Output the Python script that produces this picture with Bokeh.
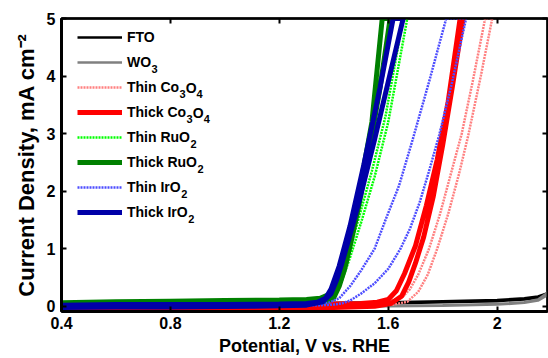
from bokeh.plotting import figure
from bokeh.models import Range1d, FixedTicker, LinearAxis, Legend, LegendItem, Label, CustomJSTickFormatter
from bokeh.embed import file_html
from bokeh.resources import INLINE

# ---- data (potential V vs RHE, current density mA/cm^2) ----
fto_v_fwd = [0.40, 0.80, 1.20, 1.60, 1.80, 2.00, 2.10, 2.15, 2.18, 2.20]
fto_j_fwd = [0.04, 0.05, 0.05, 0.07, 0.09, 0.11, 0.14, 0.17, 0.22, 0.30]
fto_v_rev = [2.20, 2.18, 2.15, 2.10, 2.00, 1.80, 1.60, 1.20, 0.80, 0.40]
fto_j_rev = [0.30, 0.20, 0.15, 0.12, 0.09, 0.07, 0.05, 0.04, 0.03, 0.02]

wo3_v_fwd = [0.40, 0.80, 1.20, 1.60, 1.80, 2.00, 2.10, 2.15, 2.18, 2.20]
wo3_j_fwd = [-0.02, -0.01, 0.00, 0.01, 0.02, 0.04, 0.07, 0.12, 0.22, 0.34]
wo3_v_rev = [2.20, 2.18, 2.15, 2.10, 2.00, 1.80, 1.60, 1.20, 0.80, 0.40]
wo3_j_rev = [0.34, 0.18, 0.10, 0.06, 0.03, 0.01, 0.00, -0.01, -0.02, -0.03]

thin_co_v_fwd = [0.40, 0.80, 1.20, 1.50, 1.60, 1.65, 1.68, 1.71, 1.75, 1.79, 1.83, 1.87, 1.91, 1.956]
thin_co_j_fwd = [0.01, 0.02, 0.03, 0.05, 0.08, 0.15, 0.30, 0.55, 1.00, 1.60, 2.30, 3.00, 3.90, 5.00]
thin_co_v_rev = [1.982, 1.94, 1.894, 1.86, 1.82, 1.78, 1.745, 1.71, 1.67, 1.62, 1.50, 1.20, 0.80, 0.40]
thin_co_j_rev = [5.00, 4.00, 2.97, 2.30, 1.60, 1.00, 0.55, 0.25, 0.08, 0.03, 0.02, 0.01, 0.00, 0.00]

thick_co_v_fwd = [0.40, 0.80, 1.20, 1.40, 1.50, 1.56, 1.60, 1.63, 1.66, 1.70, 1.74, 1.78, 1.82, 1.864]
thick_co_j_fwd = [0.02, 0.02, 0.03, 0.04, 0.05, 0.07, 0.12, 0.27, 0.57, 1.05, 1.75, 2.55, 3.55, 5.00]
thick_co_v_rev = [1.875, 1.835, 1.80, 1.765, 1.73, 1.70, 1.675, 1.65, 1.61, 1.55, 1.40, 1.20, 0.80, 0.40]
thick_co_j_rev = [5.00, 3.80, 2.80, 1.90, 1.20, 0.75, 0.42, 0.18, 0.05, 0.00, -0.02, -0.03, -0.03, -0.03]

thin_ru_v_fwd = [0.40, 0.60, 0.80, 1.00, 1.20, 1.30, 1.36, 1.40, 1.43, 1.46, 1.50, 1.55, 1.60, 1.67]
thin_ru_j_fwd = [0.03, 0.05, 0.05, 0.06, 0.06, 0.07, 0.09, 0.18, 0.45, 0.85, 1.45, 2.25, 3.20, 5.00]
thin_ru_v_rev = [1.655, 1.59, 1.54, 1.49, 1.45, 1.42, 1.40, 1.37, 1.30, 1.10, 0.80, 0.60, 0.40]
thin_ru_j_rev = [5.00, 3.30, 2.35, 1.50, 0.85, 0.45, 0.22, 0.08, 0.05, 0.04, 0.03, 0.02, 0.01]

thick_ru_v_fwd = [0.40, 0.60, 0.80, 1.00, 1.20, 1.30, 1.35, 1.38, 1.40, 1.42, 1.45, 1.49, 1.54, 1.578]
thick_ru_j_fwd = [0.06, 0.08, 0.09, 0.10, 0.11, 0.12, 0.14, 0.20, 0.34, 0.60, 1.10, 1.90, 3.20, 5.00]
thick_ru_v_rev = [1.607, 1.57, 1.53, 1.49, 1.46, 1.44, 1.42, 1.40, 1.37, 1.30, 1.10, 0.80, 0.60, 0.40]
thick_ru_j_rev = [5.00, 3.80, 2.70, 1.70, 1.05, 0.65, 0.35, 0.15, 0.08, 0.07, 0.07, 0.06, 0.05, 0.03]

thin_ir_v_fwd = [0.40, 0.80, 1.20, 1.30, 1.38, 1.42, 1.46, 1.50, 1.55, 1.59, 1.64, 1.69, 1.75, 1.813]
thin_ir_j_fwd = [0.00, 0.01, 0.02, 0.03, 0.06, 0.14, 0.35, 0.62, 1.00, 1.50, 2.10, 2.90, 3.90, 5.00]
thin_ir_v_rev = [1.886, 1.835, 1.787, 1.75, 1.715, 1.68, 1.645, 1.60, 1.55, 1.50, 1.46, 1.43, 1.40, 1.35, 1.20, 0.80, 0.40]
thin_ir_j_rev = [5.00, 3.90, 2.97, 2.35, 1.80, 1.35, 1.00, 0.65, 0.40, 0.22, 0.10, 0.05, 0.03, 0.02, 0.01, 0.00, -0.01]

thick_ir_v_fwd = [0.40, 0.60, 0.80, 1.00, 1.20, 1.30, 1.34, 1.37, 1.39, 1.42, 1.46, 1.51, 1.57, 1.618]
thick_ir_j_fwd = [0.02, 0.03, 0.03, 0.03, 0.04, 0.05, 0.07, 0.14, 0.30, 0.70, 1.40, 2.45, 3.80, 5.00]
thick_ir_v_rev = [1.655, 1.60, 1.55, 1.50, 1.46, 1.43, 1.41, 1.39, 1.36, 1.30, 1.10, 0.80, 0.60, 0.40]
thick_ir_j_rev = [5.00, 3.90, 2.90, 1.95, 1.25, 0.75, 0.45, 0.22, 0.08, 0.02, 0.00, -0.01, -0.01, -0.02]

x_ticks = [0.4, 0.8, 1.2, 1.6, 2]
y_ticks = [0, 1, 2, 3, 4, 5]

# legend label pieces: (main text, [(subscript, following text), ...])
legend_labels = [
    ("FTO", []),
    ("WO", [("3", "")]),
    ("Thin Co", [("3", "O"), ("4", "")]),
    ("Thick Co", [("3", "O"), ("4", "")]),
    ("Thin RuO", [("2", "")]),
    ("Thick RuO", [("2", "")]),
    ("Thin IrO", [("2", "")]),
    ("Thick IrO", [("2", "")]),
]

series = [
    (fto_v_fwd + fto_v_rev, fto_j_fwd + fto_j_rev, "#000000", 2.5, "solid"),
    (wo3_v_fwd + wo3_v_rev, wo3_j_fwd + wo3_j_rev, "#808080", 2.5, "solid"),
    (thin_co_v_fwd + thin_co_v_rev, thin_co_j_fwd + thin_co_j_rev, "#ff8080", 2.5, "2 1"),
    (thick_co_v_fwd + thick_co_v_rev, thick_co_j_fwd + thick_co_j_rev, "#ff0000", 5, "solid"),
    (thin_ru_v_fwd + thin_ru_v_rev, thin_ru_j_fwd + thin_ru_j_rev, "#00ff00", 2.5, "2 1"),
    (thick_ru_v_fwd + thick_ru_v_rev, thick_ru_j_fwd + thick_ru_j_rev, "#008000", 5, "solid"),
    (thin_ir_v_fwd + thin_ir_v_rev, thin_ir_j_fwd + thin_ir_j_rev, "#4d4dff", 2.5, "2 1"),
    (thick_ir_v_fwd + thick_ir_v_rev, thick_ir_j_fwd + thick_ir_j_rev, "#0000a8", 5, "solid"),
]

FONT = "Liberation Sans"
FRAME_TOP, FRAME_BOTTOM = 18, 312

p = figure(width=548, height=358, output_backend="svg", toolbar_location=None,
           x_range=Range1d(0.4, 2.185), y_range=Range1d(-0.09, 5),
           min_border_left=61, min_border_right=1, min_border_top=FRAME_TOP,
           min_border_bottom=358 - FRAME_BOTTOM)
p.grid.visible = False
p.outline_line_color = "black"
p.outline_line_width = 2.5
p.background_fill_color = "white"
p.border_fill_color = "white"

items = []
for (xs, ys, color, lw, dash), (main, subs) in zip(series, legend_labels):
    r = p.line(xs, ys, line_color=color, line_width=lw, line_dash=dash)
    items.append(LegendItem(label=main, renderers=[r]))

for ax in (p.xaxis[0], p.yaxis[0]):
    ax.axis_line_width = 3
    ax.major_tick_in = 5
    ax.major_tick_out = 0
    ax.minor_tick_in = 0
    ax.minor_tick_out = 0
    ax.major_tick_line_width = 2
    ax.major_label_text_font = FONT
    ax.major_label_text_font_style = "bold"
    ax.major_label_text_font_size = "16px"
    ax.major_label_text_color = "black"
    ax.axis_label_text_font = FONT
    ax.axis_label_text_font_style = "bold"
    ax.axis_label_text_color = "black"

p.xaxis[0].ticker = FixedTicker(ticks=x_ticks)
p.xaxis[0].major_label_overrides = {2: "2", 0.4: "0.4", 0.8: "0.8", 1.2: "1.2", 1.6: "1.6"}
p.xaxis[0].axis_label = "Potential, V vs. RHE"
p.xaxis[0].axis_label_text_font_size = "18px"
p.xaxis[0].major_label_standoff = 5
p.xaxis[0].axis_label_standoff = 4
p.yaxis[0].ticker = FixedTicker(ticks=y_ticks)
p.yaxis[0].axis_label = "Current Density, mA cm\u207b\u00b2"
p.yaxis[0].axis_label_text_font_size = "22px"
p.yaxis[0].major_label_standoff = 6
p.yaxis[0].axis_label_standoff = 5

blank = CustomJSTickFormatter(code="return ''")
top = LinearAxis(ticker=FixedTicker(ticks=x_ticks), formatter=blank,
                 major_tick_in=5, major_tick_out=0, minor_tick_in=0, minor_tick_out=0,
                 major_tick_line_width=2, axis_line_width=2, major_label_standoff=0)
right = LinearAxis(ticker=FixedTicker(ticks=y_ticks), formatter=blank,
                   major_tick_in=5, major_tick_out=0, minor_tick_in=0, minor_tick_out=0,
                   major_tick_line_width=2, axis_line_width=2, major_label_standoff=0)
p.add_layout(top, "above")
p.add_layout(right, "right")

LEG_X, LEG_TOP, ROW, GLYPH_W, STANDOFF, FS = 16, 10, 25, 45, 5, 14
frame_h = FRAME_BOTTOM - FRAME_TOP
leg_h = len(items) * 20 + (len(items) - 1) * (ROW - 20)
legend = Legend(items=items, location=(LEG_X, frame_h - LEG_TOP - leg_h), padding=0, margin=0,
                spacing=ROW - 20, label_height=20, glyph_height=20, glyph_width=GLYPH_W,
                label_standoff=STANDOFF, label_text_font=FONT, label_text_font_style="bold",
                label_text_font_size=f"{FS}px", label_text_color="black",
                border_line_alpha=0, background_fill_alpha=0)
p.add_layout(legend, "center")

# subscript pieces of the legend labels (Arial/Liberation Sans bold advance widths, per 1000 em)
W = {"T": 611, "h": 611, "i": 278, "n": 611, " ": 278, "C": 722, "o": 611, "O": 778, "R": 722,
     "u": 611, "I": 278, "r": 389, "W": 944, "c": 556, "k": 556, "F": 611,
     "2": 556, "3": 556, "4": 556}
SUB_FS = 11


def text_w(s, size):
    return sum(W[ch] for ch in s) * size / 1000.0


for i, (main, subs) in enumerate(legend_labels):
    x = LEG_X + GLYPH_W + STANDOFF + text_w(main, FS)
    yc = frame_h - LEG_TOP - 10 - ROW * i
    for sub, after in subs:
        p.add_layout(Label(x=x, y=yc - 6, x_units="screen", y_units="screen", text=sub,
                           text_font=FONT, text_font_style="bold", text_font_size=f"{SUB_FS}px",
                           text_baseline="middle", text_align="left", text_color="black"))
        x += text_w(sub, SUB_FS)
        if after:
            p.add_layout(Label(x=x, y=yc, x_units="screen", y_units="screen", text=after,
                               text_font=FONT, text_font_style="bold", text_font_size=f"{FS}px",
                               text_baseline="middle", text_align="left", text_color="black"))
            x += text_w(after, FS)

open("out.html", "w").write(file_html(p, INLINE))
